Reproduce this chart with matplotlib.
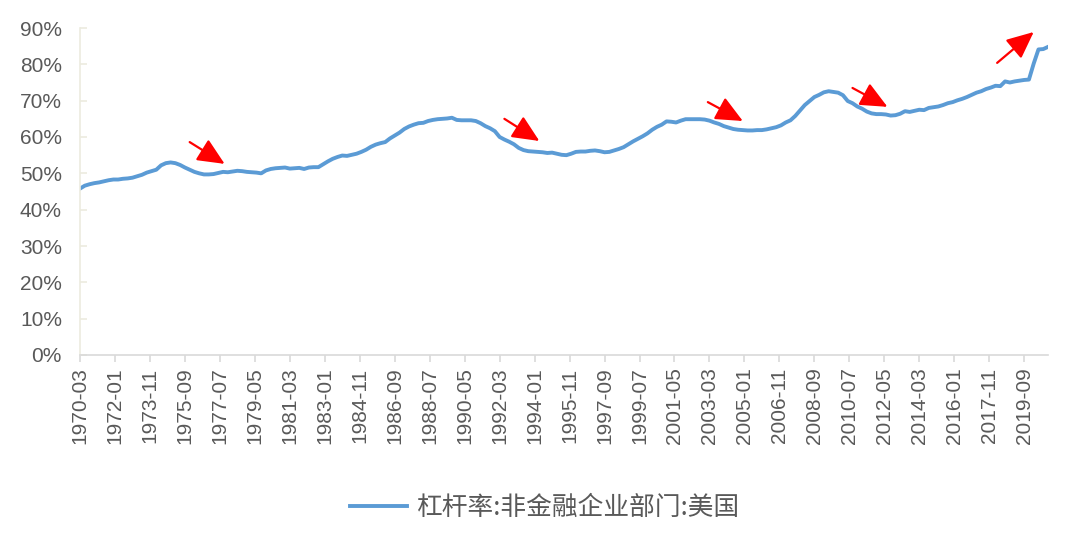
import matplotlib
matplotlib.use("Agg")
import matplotlib.pyplot as plt
import numpy as np

plt.rcParams['font.family'] = ['Liberation Sans', 'Noto Sans CJK SC', 'DejaVu Sans']

series_name = "杠杆率:非金融企业部门:美国"
start_year = 1970
# quarterly values (%), 1970-03 ... 2020-12
values = [
    45.8, 46.6, 47.0, 47.3,   # 1970
    47.5, 47.8, 48.1, 48.3,   # 1971
    48.3, 48.5, 48.6, 48.8,   # 1972
    49.2, 49.6, 50.2, 50.6,   # 1973
    51.0, 52.2, 52.8, 53.0,   # 1974
    52.8, 52.3, 51.6, 51.0,   # 1975
    50.4, 50.0, 49.7, 49.7,   # 1976
    49.8, 50.1, 50.4, 50.3,   # 1977
    50.5, 50.7, 50.6, 50.4,   # 1978
    50.3, 50.2, 50.0, 50.8,   # 1979
    51.2, 51.4, 51.5, 51.6,   # 1980
    51.3, 51.4, 51.5, 51.2,   # 1981
    51.6, 51.7, 51.7, 52.5,   # 1982
    53.3, 54.0, 54.5, 54.9,   # 1983
    54.8, 55.1, 55.4, 55.9,   # 1984
    56.5, 57.3, 57.9, 58.3,   # 1985
    58.6, 59.6, 60.4, 61.2,   # 1986
    62.2, 62.9, 63.4, 63.8,   # 1987
    63.9, 64.4, 64.7, 64.9,   # 1988
    65.0, 65.1, 65.3, 64.7,   # 1989
    64.6, 64.6, 64.6, 64.4,   # 1990
    63.8, 63.0, 62.4, 61.6,   # 1991
    60.0, 59.3, 58.7, 58.0,   # 1992
    57.0, 56.4, 56.1, 56.0,   # 1993
    55.9, 55.8, 55.6, 55.7,   # 1994
    55.4, 55.1, 55.0, 55.4,   # 1995
    55.9, 56.0, 56.0, 56.2,   # 1996
    56.3, 56.1, 55.8, 55.9,   # 1997
    56.3, 56.7, 57.2, 58.0,   # 1998
    58.8, 59.5, 60.2, 61.0,   # 1999
    62.0, 62.8, 63.4, 64.3,   # 2000
    64.2, 64.0, 64.5, 64.9,   # 2001
    64.9, 64.9, 64.9, 64.8,   # 2002
    64.5, 64.0, 63.6, 63.0,   # 2003
    62.6, 62.2, 62.0, 61.9,   # 2004
    61.8, 61.8, 61.9, 61.9,   # 2005
    62.1, 62.4, 62.7, 63.2,   # 2006
    64.0, 64.6, 65.8, 67.3,   # 2007
    68.8, 69.9, 71.0, 71.6,   # 2008
    72.3, 72.6, 72.4, 72.2,   # 2009
    71.5, 69.9, 69.3, 68.4,   # 2010
    67.8, 67.0, 66.5, 66.3,   # 2011
    66.3, 66.2, 65.9, 66.0,   # 2012
    66.4, 67.1, 66.9, 67.2,   # 2013
    67.5, 67.4, 68.0, 68.2,   # 2014
    68.4, 68.8, 69.3, 69.6,   # 2015
    70.1, 70.5, 71.0, 71.6,   # 2016
    72.2, 72.6, 73.2, 73.6,   # 2017
    74.1, 74.0, 75.3, 75.0,   # 2018
    75.3, 75.5, 75.7, 75.8,   # 2019
    80.2, 84.1, 84.2, 84.8,   # 2020
]

# red arrows: (tail month, tail %, head month, head %), months since 1970-03
arrows = [
    (69, 58.6, 91, 52.6),
    (267, 65.0, 289, 58.9),
    (395, 69.6, 417, 64.4),
    (486, 73.5, 508, 68.3),
    (577, 80.4, 600, 88.9),
]

months = np.arange(len(values)) * 3          # 1970-03 = 0
tick_step = 22
tick_pos = np.arange(0, months[-1] + 1, tick_step)
tick_labels = []
for m in tick_pos:
    total = (start_year * 12 + 2) + m        # month index, 0-based month
    tick_labels.append("{}-{:02d}".format(total // 12, total % 12 + 1))

fig = plt.figure(figsize=(10.8, 5.41), dpi=100)
ax = fig.add_axes([80/1080, 1 - 355/541, 968/1080, 327/541])

ax.plot(months, values, color='#5b9bd5', lw=2.8, solid_joinstyle='round', label=series_name)

for x0, y0, x1, y1 in arrows:
    ax.annotate("", xy=(x1, y1), xytext=(x0, y0),
                arrowprops=dict(arrowstyle='-|>,head_length=1.1,head_width=0.5',
                                color='#ff0000', lw=1.6, mutation_scale=15,
                                shrinkA=0, shrinkB=0))

ax.set_xlim(0, months[-1])
ax.set_ylim(0, 90)
ax.set_yticks(np.arange(0, 91, 10))
ax.set_yticklabels(["{}%".format(v) for v in range(0, 91, 10)])
ax.set_xticks(tick_pos)
ax.set_xticklabels(tick_labels, rotation=90)

for s in ['top', 'right']:
    ax.spines[s].set_visible(False)
ax.spines['left'].set_color('#ecebdf')
ax.spines['left'].set_linewidth(1.2)
ax.spines['bottom'].set_color('#d9d9d9')
ax.spines['bottom'].set_linewidth(1.2)

ax.tick_params(axis='y', direction='in', length=5, width=1.2, color='#ecebdf',
               labelsize=15, labelcolor='#595959', pad=13)
ax.tick_params(axis='x', direction='out', length=5, width=1.2, color='#d9d9d9',
               labelsize=15, labelcolor='#595959', pad=4)

leg = fig.legend(loc='center', bbox_to_anchor=(545/1080, 1 - 508/541), frameon=False,
                 handlelength=2.2, handletextpad=0.4,
                 prop={'family': ['Noto Sans CJK SC', 'DejaVu Sans'], 'size': 18.5})
for t in leg.get_texts():
    t.set_color('#595959')

fig.savefig("out.png", dpi=100)
